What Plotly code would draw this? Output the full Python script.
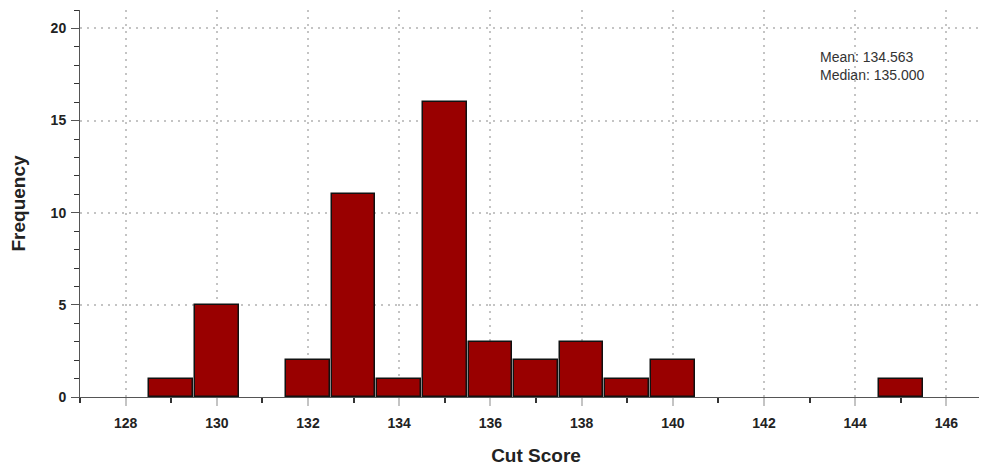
import plotly.graph_objects as go

scores = [129, 130, 132, 133, 134, 135, 136, 137, 138, 139, 140, 145]
counts = [1, 5, 2, 11, 1, 16, 3, 2, 3, 1, 2, 1]
x_ticks = [128, 130, 132, 134, 136, 138, 140, 142, 144, 146]
y_ticks = [0, 5, 10, 15, 20]
stats_lines = ["Mean: 134.563", "Median: 135.000"]

FONT = "Liberation Sans, Arial, sans-serif"

fig = go.Figure()
fig.add_trace(go.Bar(
    x=scores, y=counts, width=0.96,
    marker=dict(color="#990000", line=dict(color="#111111", width=1.5)),
    showlegend=False,
))

fig.add_annotation(
    x=143.2, y=17.96, xref="x", yref="y", text="<br>".join(stats_lines),
    showarrow=False, xanchor="left", yanchor="middle", align="left",
    borderpad=0,
    font=dict(family=FONT, size=14, color="#333333"),
)

fig.update_layout(
    width=987, height=468,
    margin=dict(l=72, r=3, t=2, b=79, autoexpand=False),
    paper_bgcolor="white", plot_bgcolor="white",
    font=dict(family=FONT, color="#222222"),
    bargap=0,
)
fig.update_xaxes(
    range=[127, 147], tickvals=x_ticks, automargin=False,
    showgrid=True, gridcolor="#c4c4c4", griddash="2px,5px", gridwidth=2,
    showline=True, linecolor="#555555", linewidth=1,
    ticks="outside", ticklen=8, tickcolor="#c4c4c4", tickwidth=2,
    ticklabelstandoff=5,
    minor=dict(dtick=1, tick0=127, ticks="outside", ticklen=5, tickcolor="#333333", showgrid=False),
    tickfont=dict(size=14, family=FONT, weight="bold", color="#222222"),
    title=dict(text="<b>Cut Score</b>", font=dict(size=19, color="#222222"), standoff=18),
    zeroline=False,
)
fig.update_yaxes(
    range=[0, 21], tickvals=y_ticks, automargin=False,
    showgrid=True, gridcolor="#c4c4c4", griddash="2px,5px", gridwidth=2,
    showline=True, linecolor="#555555", linewidth=1,
    ticks="outside", ticklen=8, tickcolor="#555555",
    ticklabelstandoff=2,
    minor=dict(dtick=1, ticks="outside", ticklen=5, tickcolor="#333333", showgrid=False),
    tickfont=dict(size=14, family=FONT, weight="bold", color="#222222"),
    title=dict(text="<b>Frequency</b>", font=dict(size=19, color="#222222"), standoff=20),
    zeroline=False,
)

fig.write_html("out.html")
